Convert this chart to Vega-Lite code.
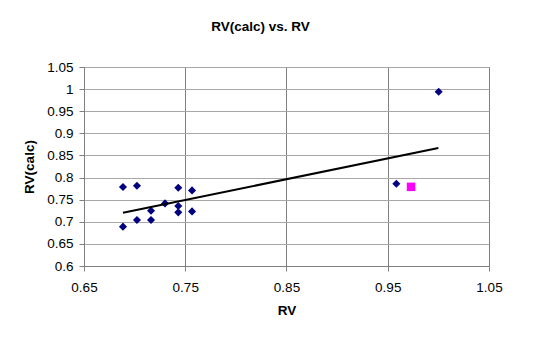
{
  "$schema": "https://vega.github.io/schema/vega-lite/v6.json",
  "autosize": "none",
  "width": 405,
  "height": 199,
  "padding": {"left": 84, "top": 67, "right": 61, "bottom": 74},
  "background": "white",
  "config": {
    "font": "Liberation Sans",
    "view": {"stroke": "#808080", "strokeWidth": 1},
    "axis": {
      "labelExpr": "format(datum.value, '.2~f')",
      "labelOverlap": false,
      "labelFlush": false,
      "labelBound": false,
      "grid": true,
      "gridWidth": 1,
      "domainColor": "#808080",
      "tickColor": "#808080",
      "tickSize": 5,
      "labelFontSize": 13.5,
      "labelColor": "black",
      "titleFontSize": 13.5,
      "titleFontWeight": "bold",
      "titleColor": "black"
    },
    "axisX": {"gridColor": "#808080", "labelPadding": 9, "titlePadding": 10},
    "axisY": {"gridColor": "#a8a8a8", "labelPadding": 6, "titlePadding": 10}
  },
  "title": {
    "text": "RV(calc) vs. RV",
    "fontSize": 13.5,
    "fontWeight": "bold",
    "color": "black",
    "font": "Liberation Sans",
    "offset": 27,
    "dx": -26,
    "anchor": "middle"
  },
  "datasets": {
    "pts": [
      {"rv": 0.6885, "calc": 0.7785},
      {"rv": 0.7023, "calc": 0.7815},
      {"rv": 0.6885, "calc": 0.689},
      {"rv": 0.7023, "calc": 0.704},
      {"rv": 0.7162, "calc": 0.704},
      {"rv": 0.7162, "calc": 0.725},
      {"rv": 0.73, "calc": 0.7416},
      {"rv": 0.7431, "calc": 0.777},
      {"rv": 0.7431, "calc": 0.7355},
      {"rv": 0.7431, "calc": 0.7213},
      {"rv": 0.7567, "calc": 0.771},
      {"rv": 0.7567, "calc": 0.7235},
      {"rv": 0.9585, "calc": 0.786},
      {"rv": 1.0003, "calc": 0.994}
    ],
    "special": [
      {"rv": 0.973, "calc": 0.779}
    ],
    "trend": [
      {"rv": 0.6885, "calc": 0.7204},
      {"rv": 1.0, "calc": 0.8667}
    ]
  },
  "layer": [
    {
      "data": {"name": "pts"},
      "mark": {"type": "point", "shape": "diamond", "filled": true, "color": "#000080", "size": 65, "opacity": 1},
      "encoding": {
        "x": {"field": "rv", "type": "quantitative", "title": "RV",
          "scale": {"domain": [0.65, 1.05], "nice": false, "zero": false},
          "axis": {"values": [0.65, 0.75, 0.85, 0.95, 1.05]}},
        "y": {"field": "calc", "type": "quantitative", "title": "RV(calc)",
          "scale": {"domain": [0.6, 1.05], "nice": false, "zero": false},
          "axis": {"values": [0.6, 0.65, 0.7, 0.75, 0.8, 0.85, 0.9, 0.95, 1, 1.05]}}
      }
    },
    {
      "data": {"name": "special"},
      "mark": {"type": "point", "shape": "square", "filled": true, "color": "#FF00FF", "size": 72, "opacity": 1},
      "encoding": {
        "x": {"field": "rv", "type": "quantitative", "title": "RV",
          "scale": {"domain": [0.65, 1.05], "nice": false, "zero": false},
          "axis": {"values": [0.65, 0.75, 0.85, 0.95, 1.05]}},
        "y": {"field": "calc", "type": "quantitative", "title": "RV(calc)",
          "scale": {"domain": [0.6, 1.05], "nice": false, "zero": false},
          "axis": {"values": [0.6, 0.65, 0.7, 0.75, 0.8, 0.85, 0.9, 0.95, 1, 1.05]}}
      }
    },
    {
      "data": {"name": "trend"},
      "mark": {"type": "line", "color": "black", "strokeWidth": 2},
      "encoding": {
        "x": {"field": "rv", "type": "quantitative", "title": "RV",
          "scale": {"domain": [0.65, 1.05], "nice": false, "zero": false},
          "axis": {"values": [0.65, 0.75, 0.85, 0.95, 1.05]}},
        "y": {"field": "calc", "type": "quantitative", "title": "RV(calc)",
          "scale": {"domain": [0.6, 1.05], "nice": false, "zero": false},
          "axis": {"values": [0.6, 0.65, 0.7, 0.75, 0.8, 0.85, 0.9, 0.95, 1, 1.05]}}
      }
    }
  ]
}
